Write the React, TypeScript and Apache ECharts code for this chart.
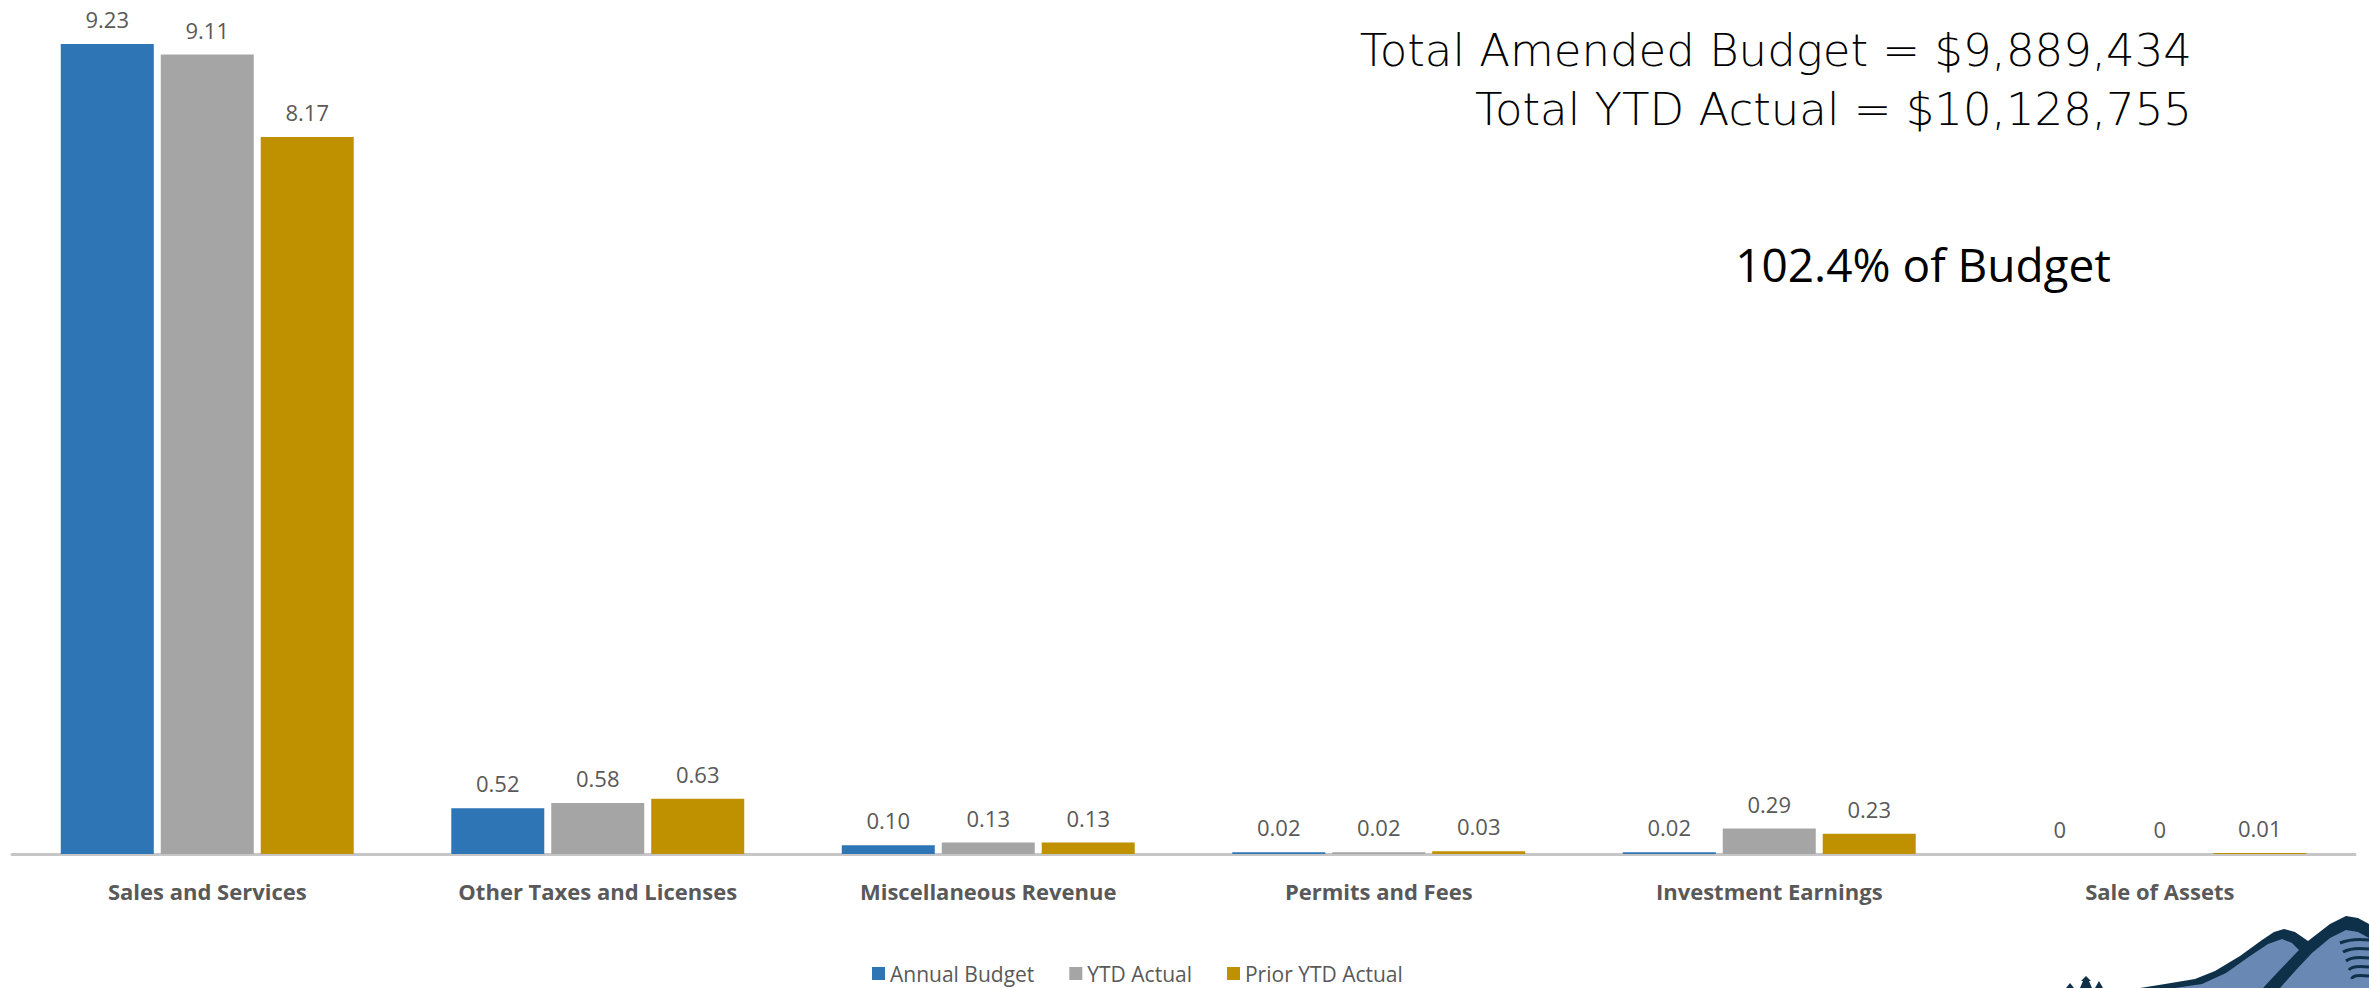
import React, { useEffect, useRef } from "react";
import * as echarts from "echarts";

const categories = [
  "Sales and Services",
  "Other Taxes and Licenses",
  "Miscellaneous Revenue",
  "Permits and Fees",
  "Investment Earnings",
  "Sale of Assets",
];
const annualBudget = [9.23, 0.52, 0.1, 0.02, 0.02, 0];
const ytdActual = [9.11, 0.58, 0.13, 0.02, 0.29, 0];
const priorYtdActual = [8.17, 0.63, 0.13, 0.03, 0.23, 0.01];

const seriesNames = ["Annual Budget", "YTD Actual", "Prior YTD Actual"];
const seriesColors = ["#2E75B6", "#A5A5A5", "#BF9000"];

const totalLines = [
  "Total Amended Budget = $9,889,434",
  "Total YTD Actual = $10,128,755",
];
const budgetShare = "102.4% of Budget";

const labelFont = "'Open Sans', 'Noto Sans', sans-serif";
const textGrey = "#595959";

function fmt(v: number): string {
  return v === 0 ? "0" : v.toFixed(2);
}

export default function App() {
  const ref = useRef<HTMLDivElement>(null);

  useEffect(() => {
    if (!ref.current) return;
    const chart = echarts.init(ref.current, null, { renderer: "svg" });
    const allValues = [...annualBudget, ...ytdActual, ...priorYtdActual];
    const yMax = Math.max(...allValues);

    const dark = "#0E3149";
    const light = "#6A88B4";

    const mkSeries = (name: string, data: number[], color: string) => ({
      name,
      type: "bar",
      data,
      barWidth: 93,
      barGap: "7.5%",
      itemStyle: { color },
      label: {
        show: true,
        position: "top",
        distance: 14,
        formatter: (p: any) => fmt(p.value),
        color: textGrey,
        fontFamily: labelFont,
        fontSize: 22,
      },
    });

    const totalStyle = {
      textAlign: "right",
      textVerticalAlign: "middle",
      fontFamily: "'DejaVu Sans', sans-serif",
      fontWeight: 300,
      fontSize: 45,
      lineHeight: 52,
      fill: "#000000",
    };

    chart.setOption({
      animation: false,
      backgroundColor: "#ffffff",
      grid: { left: 12, right: 14, top: 44, bottom: 134, containLabel: false },
      xAxis: {
        type: "category",
        data: categories,
        axisLine: { show: true, lineStyle: { color: "#C6C6C6", width: 3 } },
        axisTick: { show: false },
        axisLabel: {
          interval: 0,
          margin: 26,
          color: textGrey,
          fontFamily: labelFont,
          fontWeight: "bold",
          fontSize: 22,
        },
      },
      yAxis: {
        type: "value",
        min: 0,
        max: yMax,
        show: false,
        splitLine: { show: false },
      },
      legend: {
        left: 872,
        top: 963,
        padding: 0,
        itemWidth: 13,
        itemHeight: 13,
        itemGap: 35,
        icon: "rect",
        data: seriesNames,
        textStyle: { color: textGrey, fontFamily: labelFont, fontSize: 21 },
      },
      series: [
        mkSeries(seriesNames[0], annualBudget, seriesColors[0]),
        mkSeries(seriesNames[1], ytdActual, seriesColors[1]),
        mkSeries(seriesNames[2], priorYtdActual, seriesColors[2]),
      ],
      graphic: [
        // budget totals, two right-aligned lines
        {
          type: "text",
          x: 2192,
          y: 50,
          style: { ...totalStyle, text: totalLines[0] },
        },
        {
          type: "text",
          x: 2192,
          y: 109,
          style: { ...totalStyle, text: totalLines[1] },
        },
        {
          type: "text",
          x: 1923,
          y: 264,
          style: {
            text: budgetShare,
            textAlign: "center",
            textVerticalAlign: "middle",
            fontFamily: labelFont,
            fontSize: 46,
            fill: "#000000",
          },
        },
        // mountain logo in the lower right corner
        {
          type: "group",
          silent: true,
          children: [
            {
              type: "polygon",
              shape: {
                points: [
                  [2140, 988], [2165, 984], [2195, 979], [2215, 971],
                  [2240, 956], [2262, 940], [2274, 932], [2284, 929],
                  [2295, 932], [2308, 941], [2330, 924], [2346, 916],
                  [2358, 918], [2369, 924], [2369, 988],
                ],
              },
              style: { fill: dark },
            },
            {
              type: "polygon",
              shape: {
                points: [
                  [2175, 988], [2202, 984], [2226, 973], [2250, 956],
                  [2268, 944], [2282, 939], [2292, 943], [2299, 950],
                  [2276, 974], [2263, 988],
                ],
              },
              style: { fill: light },
            },
            {
              type: "polygon",
              shape: {
                points: [
                  [2280, 988], [2296, 970], [2312, 953], [2330, 938],
                  [2346, 930], [2358, 932], [2369, 938], [2369, 988],
                ],
              },
              style: { fill: light },
            },
            ...[941, 950, 959, 968, 977].map((y, i) => ({
              type: "bezierCurve",
              shape: {
                x1: 2340 + i * 3, y1: y + 2,
                cpx1: 2352, cpy1: y - 3,
                x2: 2369, y2: y - 1,
              },
              style: { stroke: dark, lineWidth: 3, fill: "none" },
            })),
            {
              type: "polygon",
              shape: {
                points: [
                  [2080, 988], [2083, 981], [2081, 981], [2086, 976],
                  [2091, 981], [2089, 981], [2092, 988],
                ],
              },
              style: { fill: dark },
            },
            {
              type: "polygon",
              shape: {
                points: [[2066, 988], [2070, 983], [2074, 988]],
              },
              style: { fill: dark },
            },
            {
              type: "polygon",
              shape: {
                points: [[2095, 988], [2099, 981], [2103, 988]],
              },
              style: { fill: dark },
            },
          ],
        },
      ],
    });

    return () => chart.dispose();
  }, []);

  return (
    <div
      ref={ref}
      style={{ position: "absolute", left: 0, top: 0, width: 2369, height: 988 }}
    />
  );
}
